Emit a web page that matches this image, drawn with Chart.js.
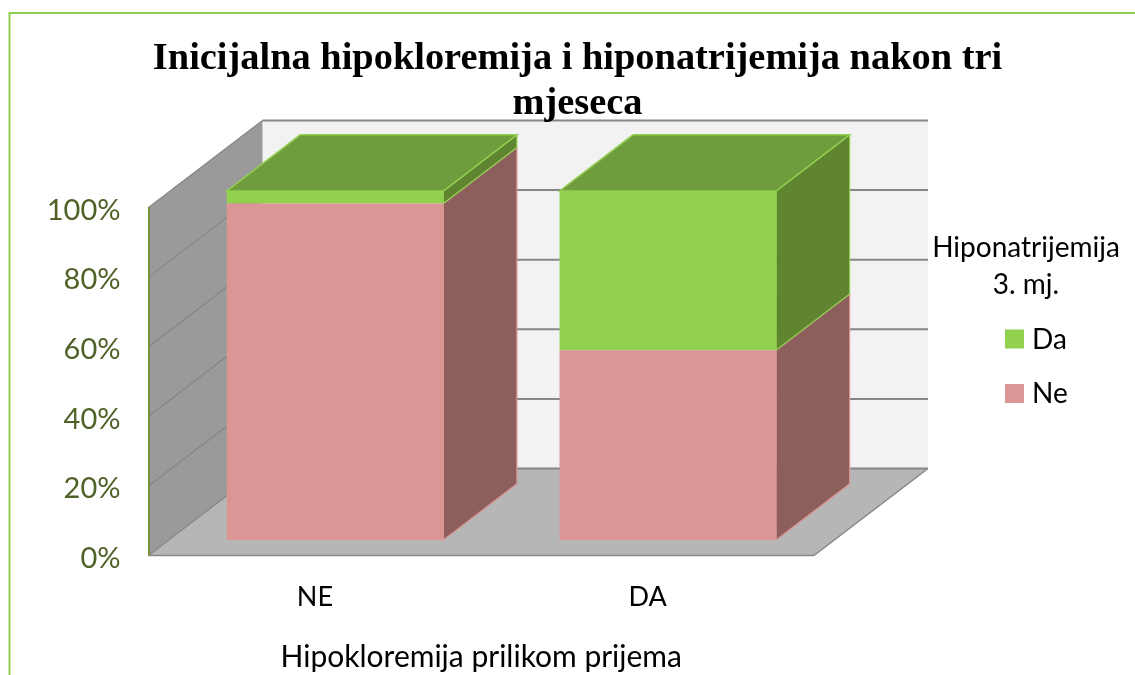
<!DOCTYPE html>
<html lang="hr">
<head>
  <meta charset="UTF-8">
  <title>Inicijalna hipokloremija i hiponatrijemija nakon tri mjeseca</title>
  <script src="https://cdn.jsdelivr.net/npm/chart.js"></script>
  <style>
    html, body { margin: 0; padding: 0; background: #fff; overflow: hidden; }
    canvas { display: block; }
  </style>
</head>
<body>
  <canvas id="chart" width="1135" height="675"></canvas>

  <script>
    // values, in percent
    const categories = ["NE", "DA"];
    const neValues = [96.4, 54.4];
    const daValues = [3.6, 45.6];
    const titleLines = ["Inicijalna hipokloremija i hiponatrijemija nakon tri", "mjeseca"];
    const legendTitle = ["Hiponatrijemija", "3. mj."];
    const xTitle = "Hipokloremija prilikom prijema";

    const pink = "#d99694";
    const pinkSide = "#8c5e5c";
    const green = "#92d050";
    const greenSide = "#5f8531";
    const greenTop = "#6f9c3d";
    const sansFont = "Lato";

    // depth of the box and of the bars, in pixels
    const wallDx = 114, wallDy = -87;
    const barDx = 73.5, barDy = -56;
    // bars stand a bit behind the front edge of the floor
    const barShiftX = 20.2, barShiftY = -15.5, barStretch = 349 / 348;

    function poly(ctx, pts, fill, stroke, lw) {
      ctx.beginPath();
      pts.forEach((p, i) => i ? ctx.lineTo(p[0], p[1]) : ctx.moveTo(p[0], p[1]));
      ctx.closePath();
      if (fill) { ctx.fillStyle = fill; ctx.fill(); }
      if (stroke) { ctx.strokeStyle = stroke; ctx.lineWidth = lw || 1; ctx.stroke(); }
    }

    function line(ctx, x1, y1, x2, y2, color, lw) {
      ctx.beginPath();
      ctx.moveTo(x1, y1);
      ctx.lineTo(x2, y2);
      ctx.strokeStyle = color;
      ctx.lineWidth = lw;
      ctx.stroke();
    }

    // page frame, walls, floor and gridlines of the fake 3D box
    const boxPlugin = {
      id: "box3d",
      beforeDraw(chart) {
        const ctx = chart.ctx, a = chart.chartArea, y = chart.scales.y;
        ctx.save();
        line(ctx, 9.5, 675, 9.5, 13, green, 2);
        line(ctx, 8.5, 13, 1135, 13, green, 2);

        poly(ctx, [[a.left + wallDx, a.top + wallDy], [a.right + wallDx, a.top + wallDy],
          [a.right + wallDx, a.bottom + wallDy], [a.left + wallDx, a.bottom + wallDy]], "#f2f2f2");
        poly(ctx, [[a.left, a.top], [a.left + wallDx, a.top + wallDy],
          [a.left + wallDx, a.bottom + wallDy], [a.left, a.bottom]], "#9a9a9a");
        poly(ctx, [[a.left, a.bottom], [a.left + wallDx, a.bottom + wallDy],
          [a.right + wallDx, a.bottom + wallDy], [a.right, a.bottom]], "#b6b6b6");

        y.ticks.forEach(t => {
          const py = y.getPixelForValue(t.value);
          line(ctx, a.left, py, a.left + wallDx, py + wallDy, "#868686", 1.2);
          line(ctx, a.left + wallDx, py + wallDy, a.right + wallDx, py + wallDy, "#868686", 2);
        });
        line(ctx, a.right, a.bottom, a.right + wallDx, a.bottom + wallDy, "#868686", 1.5);
        line(ctx, a.left, a.bottom, a.right, a.bottom, "#868686", 1.5);
        ctx.restore();
      },
      beforeDatasetsDraw(chart) {
        const ctx = chart.ctx, a = chart.chartArea;
        ctx.save();
        ctx.translate(barShiftX, barShiftY + a.bottom);
        ctx.scale(1, barStretch);
        ctx.translate(0, -a.bottom);

        // side and top faces, taken from the bar elements the library laid out
        chart.data.datasets.forEach((ds, i) => {
          const isTop = i === chart.data.datasets.length - 1;
          chart.getDatasetMeta(i).data.forEach(el => {
            const right = el.x + el.width / 2, left = el.x - el.width / 2;
            poly(ctx, [[right, el.y], [right + barDx, el.y + barDy],
              [right + barDx, el.base + barDy], [right, el.base]], ds.sideColor, ds.backgroundColor, 1.2);
            if (isTop) {
              poly(ctx, [[left, el.y], [left + barDx, el.y + barDy],
                [right + barDx, el.y + barDy], [right, el.y]], greenTop, green, 1.5);
            }
          });
        });
      },
      afterDatasetsDraw(chart) {
        chart.ctx.restore();
        drawLegend(chart);
      }
    };

    function drawLegend(chart) {
      const ctx = chart.ctx;
      ctx.save();
      ctx.fillStyle = "#000";
      ctx.textBaseline = "middle";
      ctx.textAlign = "center";
      ctx.font = "28px " + sansFont;
      legendTitle.forEach((txt, i) => ctx.fillText(txt, 1026, 248 + i * 37));

      ctx.textAlign = "left";
      ctx.font = "28px " + sansFont;
      chart.data.datasets.slice().reverse().forEach((ds, i) => {
        const top = 329.5 + i * 54.5;
        ctx.fillStyle = ds.backgroundColor;
        ctx.fillRect(1005, top, 19, 19);
        ctx.fillStyle = "#000";
        ctx.fillText(ds.label, 1032, top + 10);
      });
      ctx.restore();
    }

    new Chart(document.getElementById("chart"), {
      type: "bar",
      data: {
        labels: categories,
        datasets: [
          { label: "Ne", data: neValues, backgroundColor: pink, sideColor: pinkSide, borderWidth: 0, clip: false },
          { label: "Da", data: daValues, backgroundColor: green, sideColor: greenSide, borderWidth: 0, clip: false }
        ]
      },
      options: {
        responsive: false,
        animation: false,
        barPercentage: 0.651,
        categoryPercentage: 1,
        layout: { padding: { left: 20, right: 0, top: 0, bottom: 0 } },
        plugins: {
          legend: { display: false },
          tooltip: { enabled: false },
          title: {
            display: true,
            text: titleLines,
            color: "#000",
            font: { family: "Liberation Serif", size: 38.4, weight: "bold", lineHeight: 1.172 },
            padding: { top: 37, bottom: 80.5 }
          }
        },
        scales: {
          x: {
            stacked: true,
            grid: { display: false },
            border: { display: false },
            ticks: { color: "#000", font: { family: sansFont, size: 27 }, padding: 17.5, maxRotation: 0 },
            title: {
              display: true,
              text: xTitle,
              color: "#000",
              font: { family: sansFont, size: 30 },
              padding: { top: 0, bottom: 0 }
            },
            afterFit(s) { s.height = 119.5; }
          },
          y: {
            stacked: true,
            min: 0,
            max: 100,
            grid: { display: false },
            border: { color: "#76923c", width: 2 },
            ticks: {
              stepSize: 20,
              color: "#4f6228",
              padding: 20,
              font: { family: sansFont, size: 29, lineHeight: "6px" },
              // empty first line pushes the label down to where it sits in the original
              callback: v => ["", v + "%"]
            },
            afterFit(s) { s.width = 128.5; }
          },
          // empty axis, only keeps the room for the legend on the right
          rightGap: {
            axis: "y",
            position: "right",
            grid: { display: false },
            border: { display: false },
            ticks: { display: false },
            afterFit(s) { s.width = 321; }
          }
        }
      },
      plugins: [boxPlugin]
    });
  </script>
</body>
</html>
